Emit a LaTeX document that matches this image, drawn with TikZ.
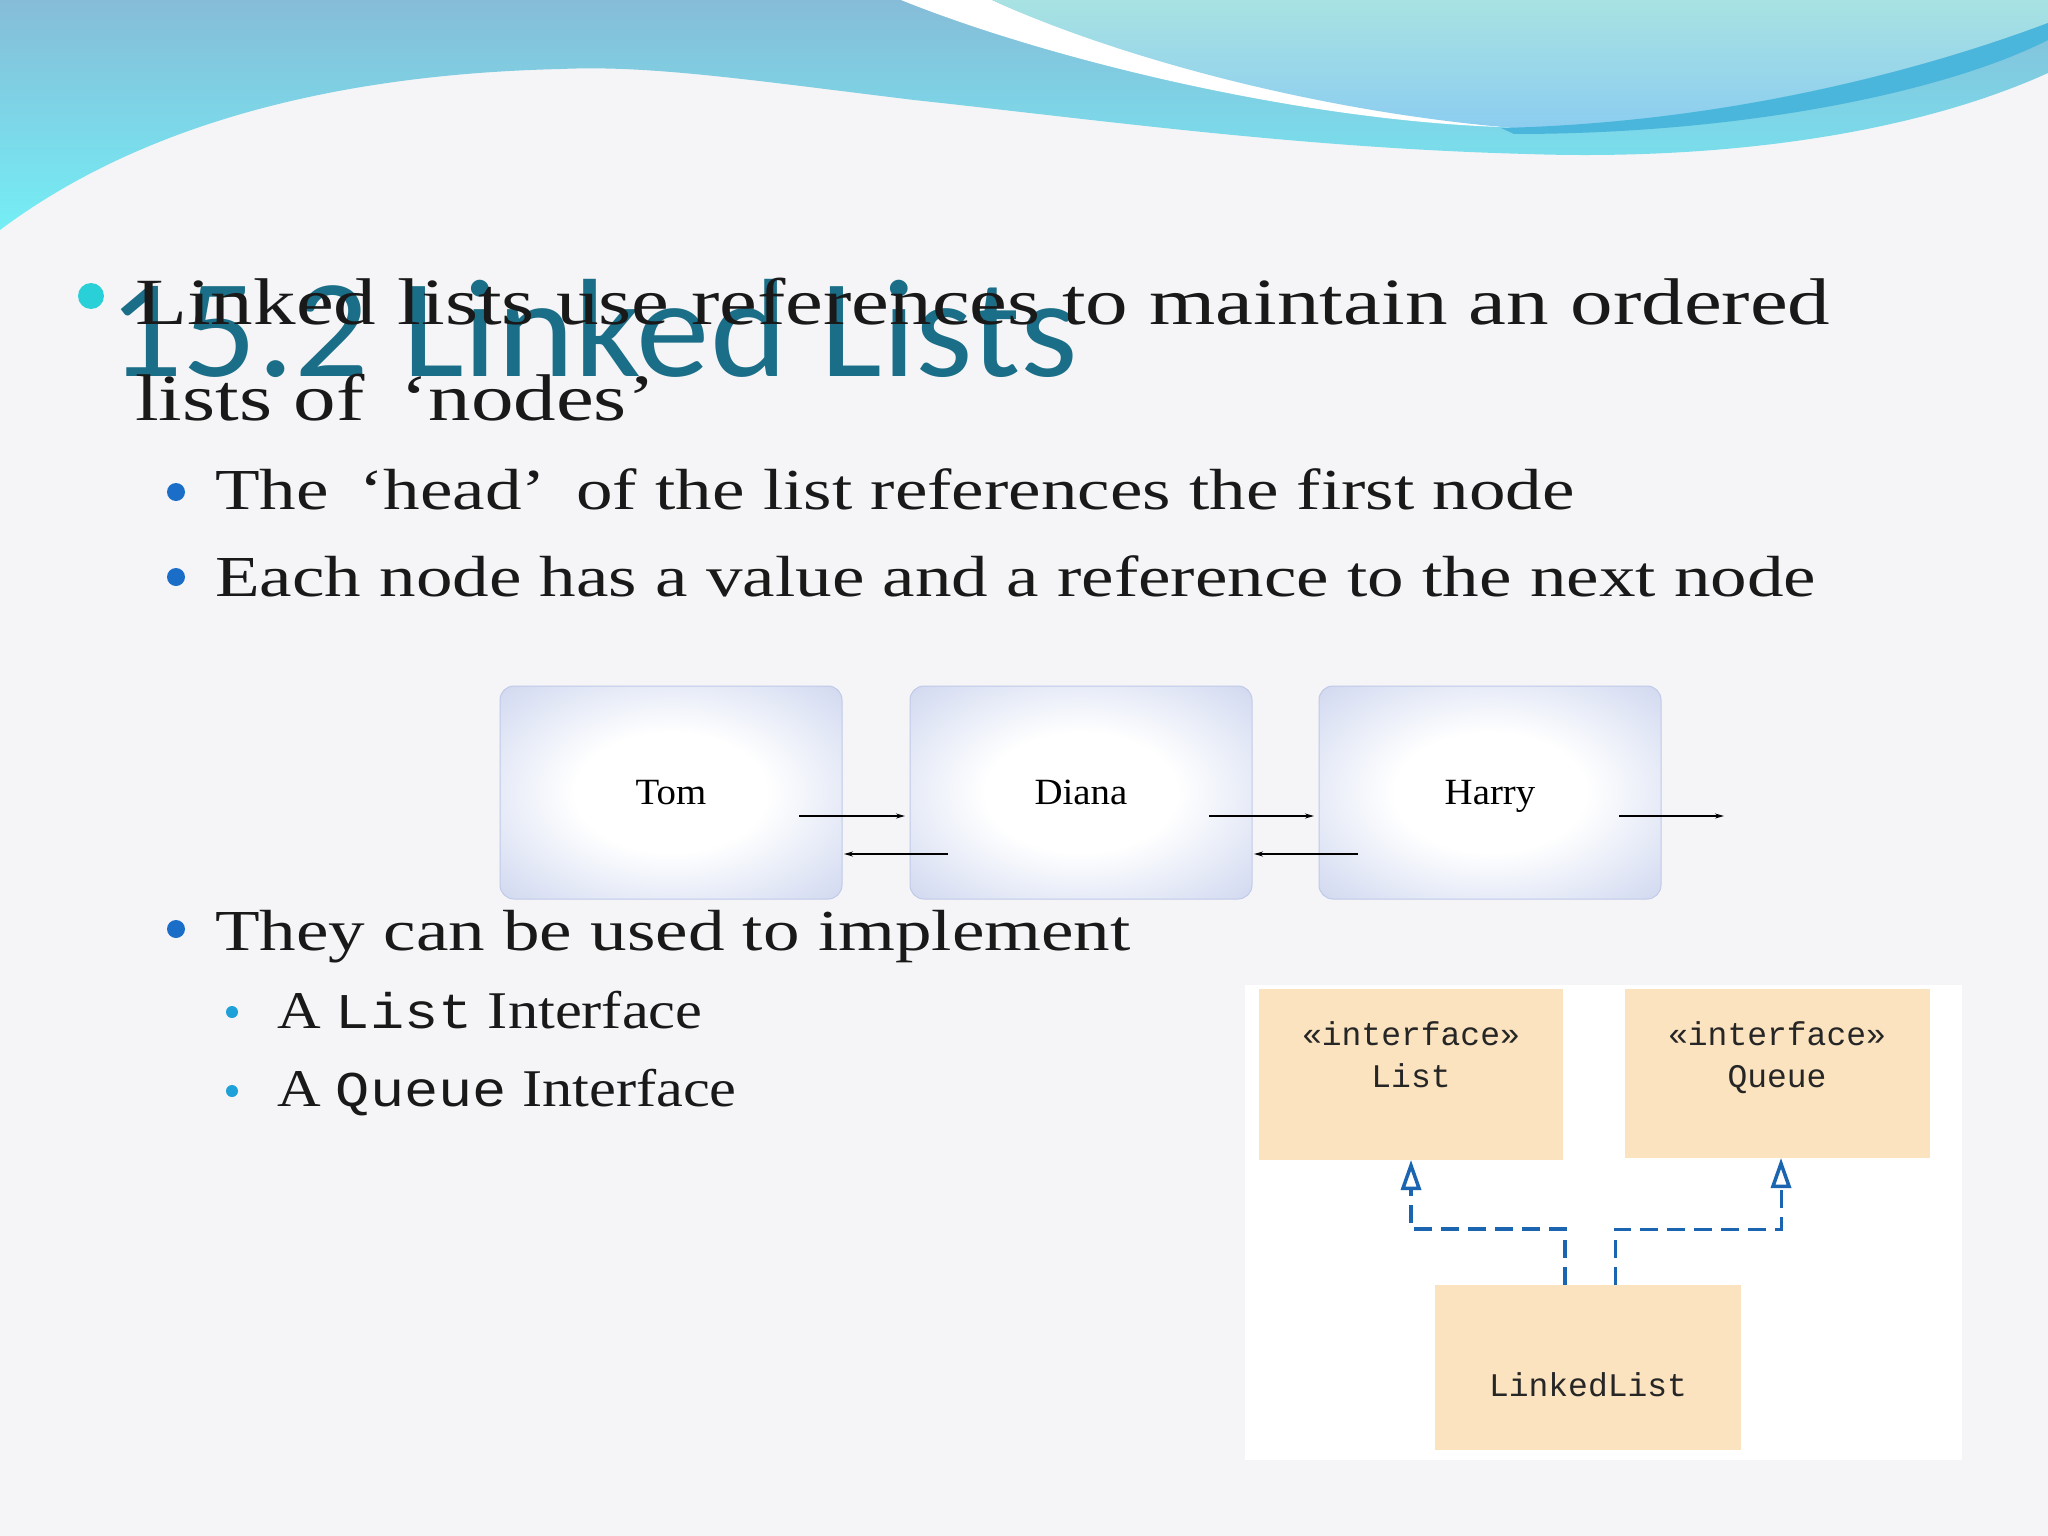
\documentclass[tikz,border=0pt]{standalone}
\usepackage{fontspec}
\setmainfont{Liberation Serif}
\newfontfamily\titlefont{Carlito}
\newfontfamily\codefont{Liberation Mono}
\usetikzlibrary{arrows.meta}
\definecolor{bg}{HTML}{F5F5F7}
\definecolor{titlec}{HTML}{1A6E87}
\definecolor{bandtop}{HTML}{86BCD8}
\definecolor{bandbot}{HTML}{74EEF5}
\definecolor{lighttop}{HTML}{A8E2E2}
\definecolor{lightbot}{HTML}{8CCDF0}
\definecolor{streak}{HTML}{4AB6DC}
\definecolor{bulcyan}{HTML}{2AD0D8}
\definecolor{bulblue}{HTML}{1A6EC8}
\definecolor{bulsub}{HTML}{1EA0D8}
\definecolor{nodeedge}{HTML}{C0CAE8}
\definecolor{nodemid}{HTML}{DCE2F4}
\definecolor{umlfill}{HTML}{FBE3BF}
\definecolor{umlline}{HTML}{1A64B0}
\pgfdeclareradialshading{llshade}{\pgfpoint{0bp}{0bp}}{color(0bp)=(white); color(14bp)=(white); color(30bp)=(nodemid); color(44bp)=(nodeedge); color(50bp)=(nodeedge)}
\begin{document}
\begin{tikzpicture}[x=1pt,y=-1pt,
  body/.style={anchor=base west,inner sep=0pt,text=black!90,font=\fontsize{66}{78}\selectfont,xscale=1.29},
  subbody/.style={anchor=base west,inner sep=0pt,text=black!90,font=\fontsize{58}{68}\selectfont,xscale=1.26},
  subsub/.style={anchor=base west,inner sep=0pt,text=black!90,font=\fontsize{53}{64}\selectfont,xscale=1.14},
  llnode/.style={draw=nodeedge,line width=1pt,rounded corners=14pt,shading=llshade},
  lltext/.style={font=\fontsize{37}{40}\selectfont,inner sep=0pt,anchor=base,xscale=1.05},
  llarrow/.style={-{Stealth[length=9pt,width=5pt]},line width=1.4pt},
  uml/.style={fill=umlfill,draw=none},
  umltext/.style={font=\codefont\fontsize{33}{40}\selectfont,anchor=base,inner sep=0pt,text=black!85},
  impl/.style={draw=umlline,line width=4pt,dash pattern=on 18pt off 9pt,-{Triangle[open,length=30pt,width=20pt,line width=3.5pt]}}
]
\useasboundingbox (0,0) rectangle (2048,1536);
\fill[bg] (0,0) rectangle (2048,1536);
% top wave
\shade[top color=bandtop,bottom color=bandbot] (0,0) -- (2048,0) -- (2048,73)
  .. controls (1900,140) and (1700,160) .. (1527,154)
  .. controls (1300,148) and (1100,120) .. (914,100)
  .. controls (750,80) and (650,65) .. (561,69)
  .. controls (300,75) and (120,140) .. (0,230) -- cycle;
\fill[white] (901,0) .. controls (1050,60) and (1300,120) .. (1501,127)
  -- (1514,128) .. controls (1300,100) and (1100,50) .. (992,0) -- cycle;
\shade[top color=lighttop,bottom color=lightbot] (992,0)
  .. controls (1100,50) and (1300,110) .. (1514,128)
  .. controls (1750,120) and (1950,60) .. (2048,23) -- (2048,0) -- cycle;
\fill[streak] (1501,128) .. controls (1750,122) and (1950,60) .. (2048,23)
  -- (2048,40) .. controls (1950,90) and (1750,134) .. (1514,134) -- cycle;
% title
\node[anchor=base west,inner sep=0pt,text=titlec,font=\titlefont\fontsize{140}{150}\selectfont,xscale=1.05] (title) at (108,376) {15.2 Linked Lists};
% bullets
\fill[bulcyan] (91,296) circle (13);
\node[body] (l1) at (135,324) {Linked lists use references to maintain an ordered};
\node[body] (l2) at (135,420) {lists of \,‘nodes’};
\fill[bulblue] (176,492) circle (9);
\node[subbody] (s1) at (215,509) {The \,‘head’\, of the list references the first node};
\fill[bulblue] (176,577) circle (9);
\node[subbody] (s2) at (215,596) {Each node has a value and a reference to the next node};
\fill[bulblue] (176,929) circle (9);
\node[subbody] (s3) at (215,950) {They can be used to implement};
\fill[bulsub] (232,1012) circle (6);
\node[subsub] (ss1) at (277,1028) {A {\codefont\fontsize{50}{60}\selectfont List} Interface};
\fill[bulsub] (232,1091) circle (6);
\node[subsub] (ss2) at (277,1106) {A {\codefont\fontsize{50}{60}\selectfont Queue} Interface};
% linked list nodes
\path[llnode] (500,686) rectangle (842,899);
\path[llnode] (910,686) rectangle (1252,899);
\path[llnode] (1319,686) rectangle (1661,899);
\node[lltext] (tom) at (671,804) {Tom};
\node[lltext] (diana) at (1081,804) {Diana};
\node[lltext] (harry) at (1490,804) {Harry};
\coordinate (t1) at (799,816); \coordinate (t2) at (905,816);
\coordinate (d1) at (1209,816); \coordinate (d2) at (1314,816);
\coordinate (h1) at (1619,816); \coordinate (h2) at (1724,816);
\coordinate (b1) at (948,854); \coordinate (b2) at (844,854);
\coordinate (c1) at (1358,854); \coordinate (c2) at (1254,854);
\draw[llarrow] (t1) -- (t2);
\draw[llarrow] (d1) -- (d2);
\draw[llarrow] (h1) -- (h2);
\draw[llarrow] (b1) -- (b2);
\draw[llarrow] (c1) -- (c2);
% UML
\fill[white] (1245,985) rectangle (1962,1460);
\node[uml,minimum width=304pt,minimum height=171pt] (list) at (1411,1074.5) {};
\node[uml,minimum width=305pt,minimum height=169pt] (queue) at (1777.5,1073.5) {};
\node[uml,minimum width=306pt,minimum height=165pt] (ll) at (1588,1367.5) {};
\node[umltext] (li1) at (1411,1045) {«interface»};
\node[umltext] (li2) at (1411,1087) {List};
\node[umltext] (qi1) at (1777,1045) {«interface»};
\node[umltext] (qi2) at (1777,1087) {Queue};
\node[umltext] (lli) at (1588,1396) {LinkedList};
\draw[impl] (1565,1285) -- (1565,1229) -- (1411,1229) -- (1411,1160);
\draw[impl,line width=3pt] (1615,1285) -- (1615,1229) -- (1781,1229) -- (1781,1158);
\end{tikzpicture}
\end{document}
